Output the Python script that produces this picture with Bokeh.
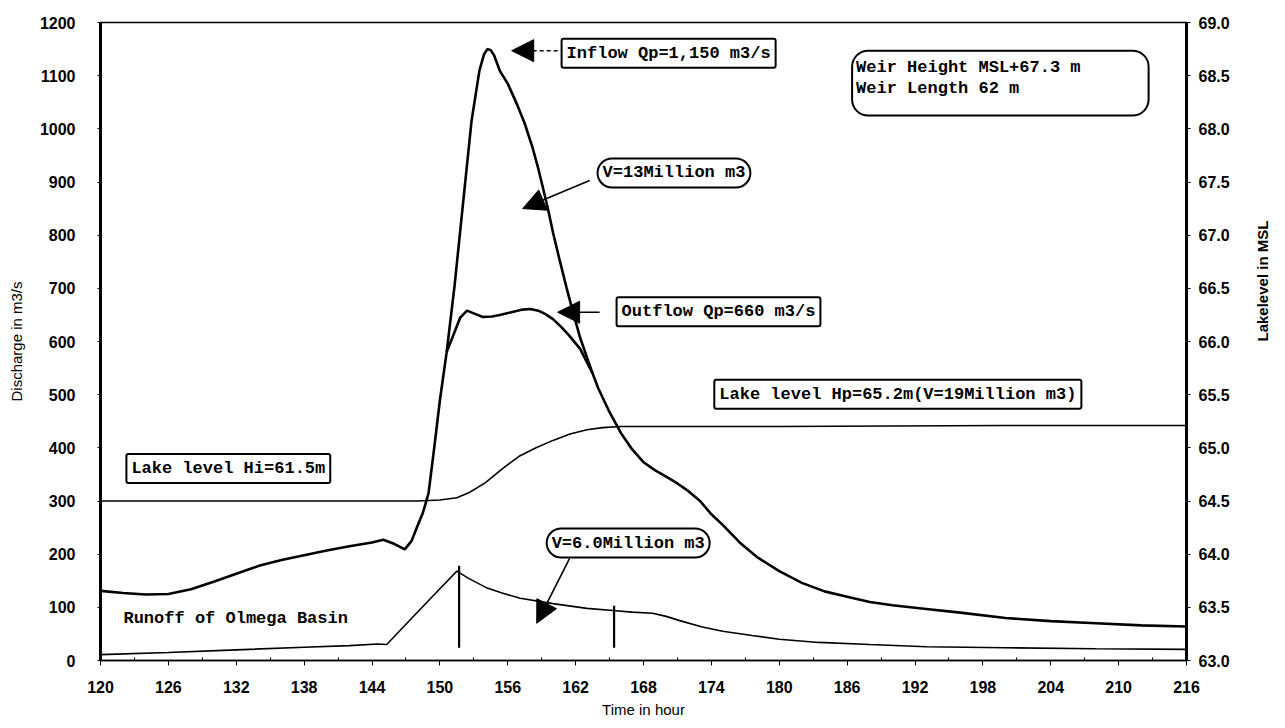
import math
from bokeh.plotting import figure
from bokeh.models import (Range1d, LinearAxis, FixedTicker, PrintfTickFormatter,
                          Label, Arrow, NormalHead, BoxAnnotation)
from bokeh.embed import file_html
from bokeh.resources import INLINE

# ---------------- data ----------------
inflow_hours = [120, 122, 124, 126, 128, 130, 132, 134, 136, 138, 140, 142, 144, 145, 146, 146.9,
                147.5, 148, 148.5, 149, 149.5, 150, 150.6, 151.3, 152, 152.8, 153.5, 153.9, 154.2,
                154.5, 154.8, 155.3, 156, 156.8, 157.5, 158.2, 158.7, 159.1, 159.6, 160, 160.6,
                161.2, 161.8, 162.4, 163.1, 163.5, 164, 165, 166, 167, 168, 169, 170, 171, 172,
                173, 174, 175, 176.5, 178, 180, 182, 184, 186, 188, 190, 193, 196, 200, 204,
                208, 212, 216]
inflow_q = [131, 127, 124, 125, 134, 148, 163, 178, 189, 198, 207, 215, 222, 227, 219, 209,
            225, 252, 278, 315, 400, 489, 580, 705, 850, 1015, 1110, 1140, 1150,
            1148, 1138, 1109, 1085, 1047, 1010, 964, 925, 890, 845, 805, 752,
            701, 653, 607, 564, 540, 512, 467, 428, 397, 373, 358, 346, 333, 318,
            300, 275, 255, 222, 195, 168, 146, 130, 120, 110, 104, 97, 90, 80, 74,
            70, 66, 64]

outflow_hours = [150.6, 151.3, 151.8, 152.4, 153.1, 153.8, 154.6, 155.3, 156.5, 157.3, 158.0,
                 158.7, 159.3, 160.0, 160.7, 161.4, 162.4, 163.5]
outflow_q = [580, 618, 645, 658, 652, 646, 647, 650, 656, 660, 661, 658, 652, 642, 628, 612, 586, 540]

runoff_hours = [120, 126, 132, 138, 142, 144.5, 145.3, 146.5, 148.2, 150, 151.5, 152.5, 154.1,
                155.5, 157.1, 160, 163, 165.3, 167, 168.8, 170, 171.2, 173.2, 175, 177.6, 180,
                183.5, 188, 193, 200, 208, 216]
runoff_q = [11, 15, 20, 25, 28, 31, 30, 57, 95, 135, 168, 155, 137, 127, 117, 107, 98, 94, 91,
            89, 83, 75, 63, 55, 47, 40, 34, 30, 26, 24, 22, 21]

lake_hours = [120, 130, 140, 148, 150, 151.5, 152.6, 154, 155.6, 157, 158.5, 160, 161.5, 163,
              164.4, 166, 168.8, 180, 200, 216]
lake_level = [64.50, 64.50, 64.50, 64.50, 64.51, 64.53, 64.58, 64.67, 64.81, 64.92, 65.00,
              65.07, 65.13, 65.17, 65.19, 65.20, 65.20, 65.20, 65.21, 65.21]

marker_hours = [151.7, 165.4]
marker_top = [178, 103]
marker_bottom = [24, 24]

x_ticks = list(range(120, 217, 6))
x_minor = [t + 3 for t in range(120, 216, 6)]
q_ticks = list(range(0, 1201, 100))
lake_ticks = [63.0 + 0.5 * i for i in range(13)]

MONO = "Liberation Mono"
SANS = "Liberation Sans"

# ---------------- figure ----------------
p = figure(width=1282, height=722, output_backend="svg", toolbar_location=None,
           x_range=Range1d(120, 216), y_range=Range1d(0, 1200),
           min_border_left=100, min_border_right=94, min_border_top=22, min_border_bottom=62)
p.grid.visible = False
p.outline_line_color = "black"
p.outline_line_width = 1.5
p.background_fill_color = "white"
p.border_fill_color = "white"

p.extra_y_ranges = {"lake": Range1d(63, 69)}

def style_axis(ax):
    ax.major_label_text_font = SANS
    ax.major_label_text_font_style = "bold"
    ax.major_label_text_font_size = "16px"
    ax.major_label_text_color = "black"
    ax.axis_label_text_font = SANS
    ax.axis_label_text_font_size = "15px"
    ax.axis_label_text_color = "black"
    ax.axis_line_color = "black"
    ax.major_tick_line_color = "black"
    ax.minor_tick_line_color = "black"

# x axis
xa = p.xaxis[0]
style_axis(xa)
xa.ticker = FixedTicker(ticks=x_ticks, minor_ticks=x_minor)
xa.axis_line_width = 1.5
xa.major_tick_out = 5
xa.major_tick_in = 0
xa.minor_tick_in = 3
xa.minor_tick_out = 0
xa.major_label_standoff = 15
xa.axis_label = "Time in hour"
xa.axis_label_text_font_style = "normal"
xa.axis_label_standoff = 5

# left axis
ya = p.yaxis[0]
style_axis(ya)
ya.ticker = FixedTicker(ticks=q_ticks)
ya.axis_line_width = 3
ya.major_tick_out = 3
ya.major_tick_in = 0
ya.minor_tick_out = 0
ya.minor_tick_in = 0
ya.major_label_standoff = 22
ya.axis_label = "Discharge in m3/s"
ya.axis_label_text_font_style = "normal"
ya.axis_label_standoff = 12

# right axis
yr = LinearAxis(y_range_name="lake")
style_axis(yr)
yr.ticker = FixedTicker(ticks=lake_ticks)
yr.formatter = PrintfTickFormatter(format="%.1f")
yr.axis_line_width = 3
yr.major_tick_out = 4
yr.major_tick_in = 0
yr.minor_tick_out = 0
yr.minor_tick_in = 0
yr.major_label_standoff = 8
yr.axis_label = "Lakelevel in MSL"
yr.axis_label_text_font_style = "bold"
yr.axis_label_standoff = 30
try:
    yr.axis_label_orientation = math.pi / 2
except Exception:
    pass
p.add_layout(yr, "right")

# ---------------- series ----------------
p.line(inflow_hours, inflow_q, line_color="black", line_width=2.6)
p.line(outflow_hours, outflow_q, line_color="black", line_width=2.6)
p.line(runoff_hours, runoff_q, line_color="black", line_width=1.6)
p.line(lake_hours, lake_level, line_color="black", line_width=1.6, y_range_name="lake")
p.segment(x0=marker_hours, y0=marker_bottom, x1=marker_hours, y1=marker_top,
          line_color="black", line_width=2.2)

# ---------------- annotations ----------------
def box_label(x, y, text, radius=2):
    lab = Label(x=x, y=y, text=text, text_font=MONO, text_font_style="bold",
                text_font_size="17px", text_align="left", text_baseline="middle",
                text_color="black", padding=5, border_line_color="black",
                border_line_width=2, background_fill_color="white", border_radius=radius)
    p.add_layout(lab)

box_label(160.76, 1142, "Inflow Qp=1,150 m3/s")
box_label(163.94, 917, "V=13Million m3", radius=15)
box_label(165.62, 656, "Outflow Qp=660 m3/s")
box_label(174.26, 501, "Lake level Hp=65.2m(V=19Million m3)")
box_label(122.29, 361, "Lake level Hi=61.5m")
box_label(159.44, 221, "V=6.0Million m3", radius=15)

p.add_layout(Label(x=122.03, y=79, text="Runoff of Olmega Basin", text_font=MONO,
                   text_font_style="bold", text_font_size="17px", text_align="left",
                   text_baseline="middle", text_color="black"))

p.add_layout(BoxAnnotation(left=186.44, right=212.65, top=1147, bottom=1025,
                           fill_alpha=0, line_color="black", line_alpha=1.0, line_width=2,
                           border_radius=16))
for yy, t in [(1115, "Weir Height MSL+67.3 m"), (1076, "Weir Length 62 m")]:
    p.add_layout(Label(x=186.79, y=yy, text=t, text_font=MONO, text_font_style="bold",
                       text_font_size="17px", text_align="left", text_baseline="middle",
                       text_color="black"))

def arrow(x0, y0, x1, y1, dash="solid"):
    head = NormalHead(size=22, fill_color="black", line_color="black")
    p.add_layout(Arrow(end=head, x_start=x0, y_start=y0, x_end=x1, y_end=y1,
                       line_color="black", line_width=1.6, line_dash=dash))

arrow(160.41, 1147, 156.35, 1147, dash="4 3")
arrow(163.24, 903, 157.32, 850)
arrow(164.12, 655, 160.41, 655)
arrow(161.47, 192, 158.56, 70)

open("out.html", "w").write(file_html(p, INLINE))
